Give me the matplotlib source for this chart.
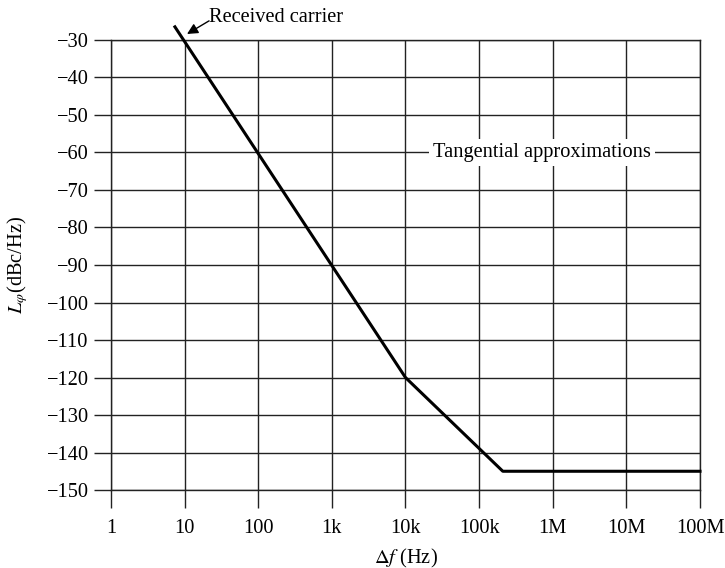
import numpy as np
import matplotlib
matplotlib.use('Agg')
import matplotlib.pyplot as plt

plt.rcParams['font.family'] = ['Liberation Serif', 'DejaVu Serif']
plt.rcParams['mathtext.fontset'] = 'stix'

# corner points of the tangential approximation
freq = [7.4, 1e4, 2.1e5, 1e8]
level = [-26.5, -120, -145, -145]

xticks = [1, 10, 100, 1e3, 1e4, 1e5, 1e6, 1e7, 1e8]
xlabels = ['1', '10', '100', '1k', '10k', '100k', '1M', '10M', '100M']
yticks = list(range(-150, -29, 10))
ylabels = ['\u2212' + str(-v) for v in yticks]

fs = 14.7

fig = plt.figure(figsize=(7.25, 5.68), dpi=100)
ax = fig.add_axes([0.153, 0.1373, 0.8125, 0.7923])

ax.set_xscale('log')
ax.set_xlim(1, 1e8)
ax.set_ylim(-150, -30)
ax.set_xticks(xticks)
ax.set_xticklabels(xlabels)
ax.xaxis.set_minor_locator(matplotlib.ticker.NullLocator())
ax.set_yticks(yticks)
ax.set_yticklabels(ylabels)

gc = '#222222'
ax.grid(True, color=gc, linewidth=1.0)
for s in ax.spines.values():
	s.set_color(gc)
	s.set_linewidth(1.0)
ax.tick_params(direction='out', length=12, width=1.0, color=gc,
	labelsize=fs, pad=4)
ax.tick_params(axis='x', length=13, pad=8)

ax.plot(freq, level, color='black', linewidth=2.2, clip_on=False, zorder=5)

# received carrier label and arrow
ax.text(21.5, -24.0, 'Received carrier', fontsize=fs, ha='left', va='center')
ax.annotate('', xy=(10.8, -28.4), xytext=(21.5, -24.9),
	annotation_clip=False,
	arrowprops=dict(arrowstyle='-|>', color='black', lw=1.0,
		mutation_scale=16, shrinkA=0, shrinkB=0))

ax.text(7.2e5, -60, 'Tangential approximations', fontsize=fs,
	ha='center', va='center', zorder=6,
	bbox=dict(facecolor='white', edgecolor='none', pad=3))

ax.set_xlabel(r'$\Delta f$ (Hz)', fontsize=fs, labelpad=6)
ax.set_ylabel(r'$L_{\varphi}$(dBc/Hz)', fontsize=fs, labelpad=12)

fig.savefig('out.png', dpi=100)
